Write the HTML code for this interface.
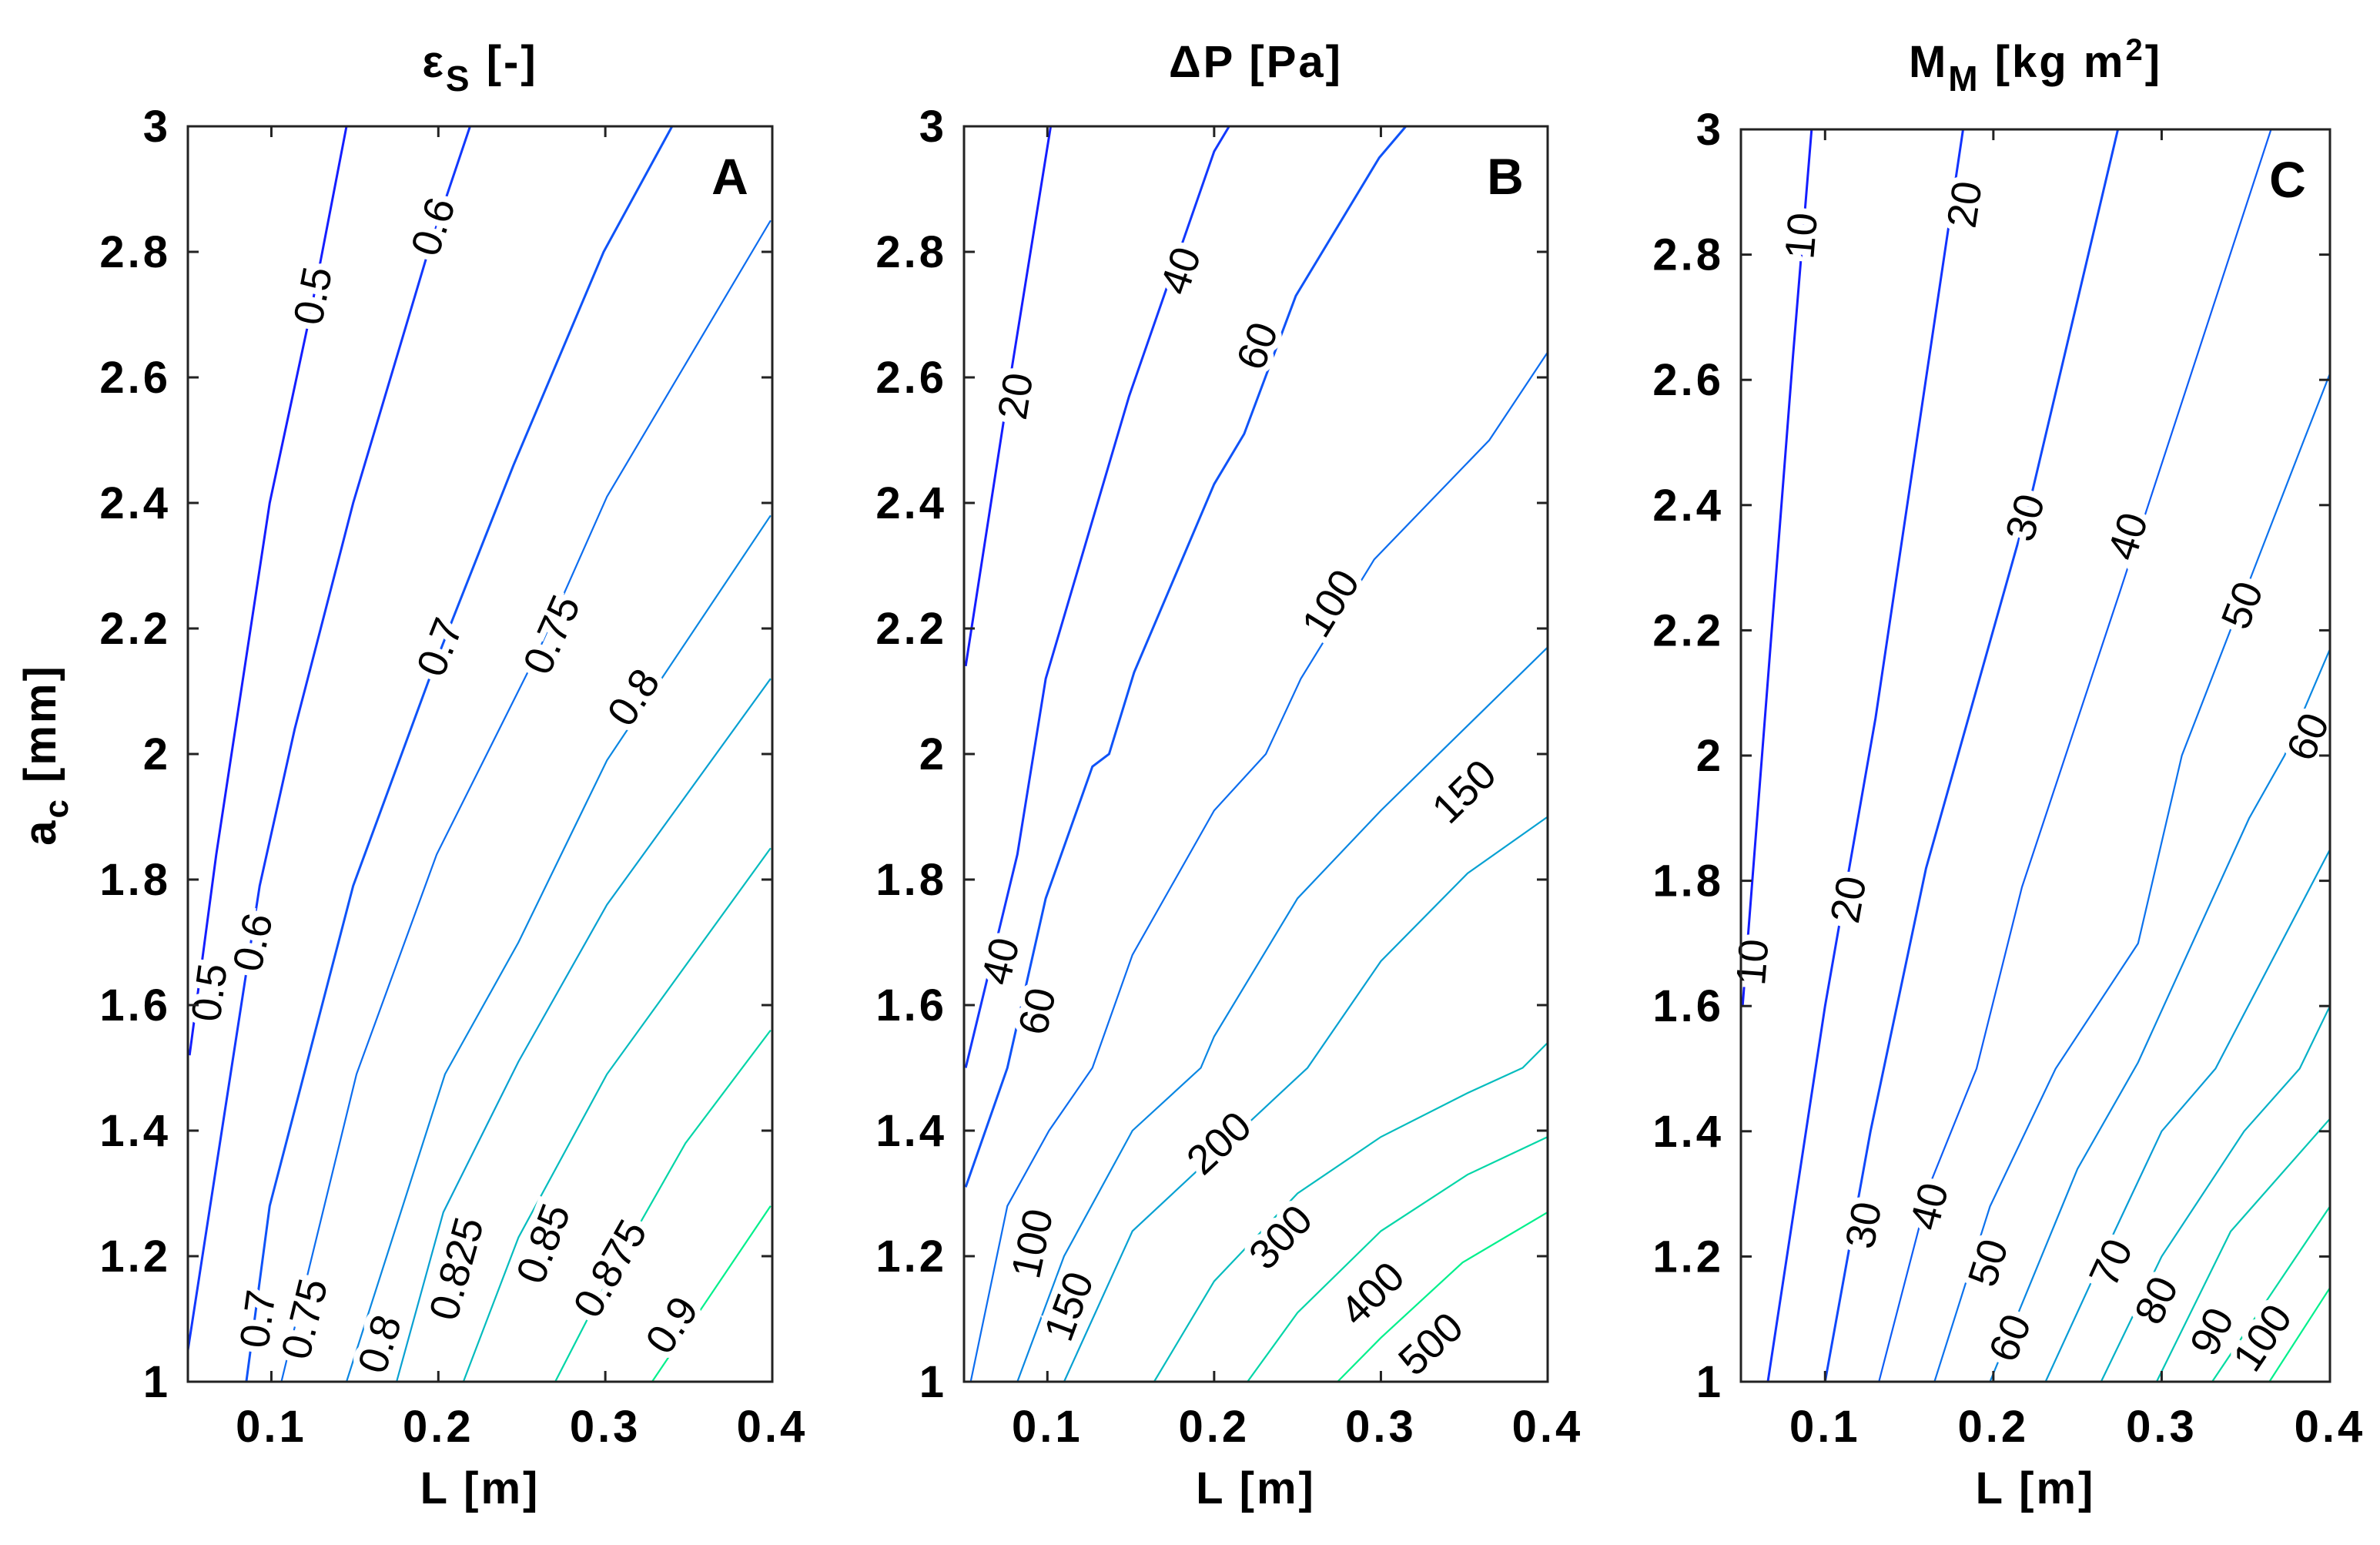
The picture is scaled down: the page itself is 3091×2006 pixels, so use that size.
<!DOCTYPE html>
<html><head><meta charset="utf-8"><style>
body{margin:0;background:#fff}
svg text{font-family:"Liberation Sans",Arial,sans-serif}
</style></head><body>
<svg id="fig" xmlns="http://www.w3.org/2000/svg" width="3091" height="2001" viewBox="0 0 3091 2001"></svg>
<script>
// ---- Panel A data (epsilon_s)
const levelsA = ["0.5","0.6","0.7","0.75","0.8","0.825","0.85","0.875","0.9"];
const linesA = [
 [[0.051,1.52],[0.067,1.84],[0.099,2.40],[0.124,2.71],[0.145,3.0]],
 [[0.05,1.05],[0.093,1.79],[0.114,2.04],[0.149,2.40],[0.195,2.81],[0.219,3.0]],
 [[0.085,1.0],[0.099,1.28],[0.149,1.79],[0.196,2.13],[0.245,2.46],[0.299,2.80],[0.34,3.0]],
 [[0.106,1.0],[0.151,1.49],[0.199,1.84],[0.261,2.17],[0.301,2.41],[0.399,2.85]],
 [[0.145,1.0],[0.204,1.49],[0.248,1.70],[0.301,1.99],[0.399,2.38]],
 [[0.175,1.0],[0.203,1.27],[0.248,1.51],[0.301,1.76],[0.399,2.12]],
 [[0.215,1.0],[0.248,1.23],[0.301,1.49],[0.399,1.85]],
 [[0.27,1.0],[0.301,1.16],[0.348,1.38],[0.399,1.56]],
 [[0.328,1.0],[0.399,1.28]]
];
const labelsA = [[0,0.125,2.73],[0,0.063,1.62],[1,0.197,2.84],[1,0.089,1.70],[2,0.201,2.17],[2,0.092,1.10],
 [3,0.268,2.19],[3,0.12,1.10],[4,0.317,2.09],[4,0.165,1.06],[5,0.211,1.18],[6,0.263,1.22],[7,0.303,1.18],[8,0.34,1.09]];
// ---- Panel B data (delta P)
const levelsB = ["20","40","60","100","150","200","300","400","500"];
const linesB = [
 [[0.051,2.14],[0.079,2.62],[0.102,3.0]],
 [[0.051,1.50],[0.082,1.84],[0.099,2.12],[0.149,2.57],[0.2,2.96],[0.209,3.0]],
 [[0.051,1.31],[0.076,1.50],[0.099,1.77],[0.127,1.98],[0.137,2.0],[0.152,2.13],[0.2,2.43],[0.218,2.51],[0.249,2.73],[0.299,2.95],[0.315,3.0]],
 [[0.054,1.0],[0.076,1.28],[0.101,1.40],[0.127,1.50],[0.151,1.68],[0.2,1.91],[0.231,2.0],[0.252,2.12],[0.296,2.31],[0.365,2.50],[0.4,2.64]],
 [[0.082,1.0],[0.11,1.20],[0.151,1.40],[0.192,1.50],[0.2,1.55],[0.25,1.77],[0.3,1.91],[0.4,2.17]],
 [[0.11,1.0],[0.151,1.24],[0.256,1.50],[0.3,1.67],[0.352,1.81],[0.4,1.90]],
 [[0.164,1.0],[0.2,1.16],[0.25,1.30],[0.3,1.39],[0.352,1.46],[0.385,1.50],[0.4,1.54]],
 [[0.22,1.0],[0.25,1.11],[0.3,1.24],[0.352,1.33],[0.4,1.39]],
 [[0.274,1.0],[0.3,1.07],[0.349,1.19],[0.4,1.27]]
];
const labelsB = [[0,0.081,2.57],[1,0.18,2.77],[1,0.072,1.67],[2,0.226,2.65],[2,0.094,1.59],[3,0.27,2.24],[3,0.091,1.22],
 [4,0.35,1.94],[4,0.113,1.12],[5,0.203,1.38],[6,0.24,1.23],[7,0.295,1.14],[8,0.33,1.06]];
// ---- Panel C data (M_M)
const levelsC = ["10","20","30","40","50","60","70","80","90","100","110"];
const linesC = [
 [[0.051,1.60],[0.081,2.64],[0.092,3.0]],
 [[0.066,1.0],[0.1,1.60],[0.13,2.06],[0.182,3.0]],
 [[0.1,1.0],[0.127,1.40],[0.16,1.82],[0.223,2.42],[0.274,3.0]],
 [[0.132,1.0],[0.163,1.32],[0.19,1.50],[0.217,1.79],[0.275,2.26],[0.365,3.0]],
 [[0.165,1.0],[0.198,1.28],[0.237,1.50],[0.286,1.70],[0.312,2.0],[0.384,2.50],[0.4,2.61]],
 [[0.198,1.0],[0.25,1.34],[0.286,1.51],[0.352,1.90],[0.373,2.0],[0.4,2.17]],
 [[0.231,1.0],[0.272,1.24],[0.3,1.40],[0.332,1.50],[0.4,1.85]],
 [[0.264,1.0],[0.3,1.20],[0.349,1.40],[0.382,1.50],[0.4,1.60]],
 [[0.297,1.0],[0.341,1.24],[0.4,1.42]],
 [[0.33,1.0],[0.4,1.28]],
 [[0.364,1.0],[0.4,1.15]]
];
const labelsC = [[0,0.086,2.83],[0,0.057,1.67],[1,0.183,2.88],[1,0.114,1.77],[2,0.219,2.38],[2,0.123,1.25],
 [3,0.28,2.35],[3,0.162,1.28],[4,0.348,2.24],[4,0.197,1.19],[5,0.387,2.03],[5,0.21,1.07],
 [6,0.27,1.19],[7,0.297,1.13],[8,0.33,1.08],[9,0.36,1.07]];
const xTicks = [0.1,0.2,0.3,0.4];
const yTicks = [1,1.2,1.4,1.6,1.8,2,2.2,2.4,2.6,2.8,3];
const yTickLabels = ["1","1.2","1.4","1.6","1.8","2","2.2","2.4","2.6","2.8","3"];

const NS="http://www.w3.org/2000/svg";
const svg=document.getElementById('fig');
function mk(tag,attrs,parent){const e=document.createElementNS(NS,tag);for(const k in attrs)e.setAttribute(k,attrs[k]);(parent||svg).appendChild(e);return e;}
function color(i,n){const t=n>1?i/(n-1):0;
 const r=Math.round(20*(1-t)+0*t), g=Math.round(30+(240-30)*t), b=Math.round(255-(255-140)*t*t);
 return `rgb(${r},${g},${b})`;}

function panel(cfg){
 const {x0,x1,y0,y1,levels,lines,labels,letter,title,name}=cfg;
 const X=L=>x0+(L-0.05)/(0.4-0.05)*(x1-x0);
 const Y=a=>y1-(a-1)/2*(y1-y0);
 const g=mk('g',{});
 
 
 mk('rect',{x:x0,y:y0,width:x1-x0,height:y1-y0,fill:'#fff'},g);
 lines.forEach((ln,i)=>{
  const p=mk('polyline',{points:ln.map(q=>X(q[0])+','+Y(q[1])).join(' '),fill:'none',stroke:color(i,lines.length),'stroke-width':i<3?3:2.2},g);
  
  
 });
 labels.forEach(lb=>{
  const ln=lines[lb[0]];const px=X(lb[1]),py=Y(lb[2]);
  let best=1e9,ang=0;
  for(let k=0;k<ln.length-1;k++){const ax=X(ln[k][0]),ay=Y(ln[k][1]),bx=X(ln[k+1][0]),by=Y(ln[k+1][1]);
   const mx=(ax+bx)/2,my=(ay+by)/2;const d=Math.hypot(mx-px,my-py);if(d<best){best=d;ang=Math.atan2(by-ay,bx-ax)*180/Math.PI;}}
  if(ang>90)ang-=180;if(ang<-90)ang+=180;
  const t=mk('text',{x:px,y:py,'font-size':54,'text-anchor':'middle','dominant-baseline':'central',fill:'#000',stroke:'#fff','stroke-width':16,'paint-order':'stroke',transform:`rotate(${ang} ${px} ${py})`},g);
  t.textContent=levels[lb[0]];
  
  
 });
 mk('rect',{x:x0,y:y0,width:x1-x0,height:y1-y0,fill:'none',stroke:'#222','stroke-width':3},g);
 xTicks.forEach(v=>{const x=X(v);
  mk('line',{x1:x,y1:y1,x2:x,y2:y1-14,stroke:'#222','stroke-width':3},g);
  mk('line',{x1:x,y1:y0,x2:x,y2:y0+14,stroke:'#222','stroke-width':3},g);
  const t=mk('text',{x:x,y:y1+78,'font-size':58,'font-weight':'bold','letter-spacing':4,'text-anchor':'middle'},g);t.textContent=String(v);
  
  
 });
 yTicks.forEach((v,i)=>{const y=Y(v);
  mk('line',{x1:x0,y1:y,x2:x0+14,y2:y,stroke:'#222','stroke-width':3},g);
  mk('line',{x1:x1,y1:y,x2:x1-14,y2:y,stroke:'#222','stroke-width':3},g);
  const t=mk('text',{x:x0-22,y:y+20,'font-size':58,'font-weight':'bold','letter-spacing':4,'text-anchor':'end'},g);t.textContent=yTickLabels[i];
  
  
 });
 const lt=mk('text',{x:x1-55,y:y0+88,'font-size':66,'font-weight':'bold','text-anchor':'middle'},g);lt.textContent=letter;
 
 
 const xl=mk('text',{x:(x0+x1)/2,y:y1+158,'font-size':58,'font-weight':'bold','letter-spacing':3,'text-anchor':'middle'},g);xl.textContent='L [m]';
 
 
 const tt=mk('text',{x:(x0+x1)/2,y:100,'font-size':58,'font-weight':'bold','letter-spacing':3,'text-anchor':'middle'},g);tt.innerHTML=title;
 
 
}
panel({x0:244,x1:1003,y0:164,y1:1794,levels:levelsA,lines:linesA,labels:labelsA,letter:'A',name:'panel-a',
 title:'ε<tspan dy="18" font-size="46">S</tspan><tspan dy="-18"> [-]</tspan>'});
panel({x0:1252,x1:2010,y0:164,y1:1794,levels:levelsB,lines:linesB,labels:labelsB,letter:'B',name:'panel-b',
 title:'ΔP [Pa]'});
panel({x0:2261,x1:3026,y0:168,y1:1794,levels:levelsC,lines:linesC,labels:labelsC,letter:'C',name:'panel-c',
 title:'M<tspan dy="18" font-size="46">M</tspan><tspan dy="-18"> [kg m</tspan><tspan dy="-22" font-size="40">2</tspan><tspan dy="22">]</tspan>'});
const yl=mk('text',{x:0,y:0,'font-size':58,'font-weight':'bold','letter-spacing':3,'text-anchor':'middle',transform:'translate(72 980) rotate(-90)'});
yl.innerHTML='a<tspan dy="16" font-size="44">c</tspan><tspan dy="-16"> [mm]</tspan>';


</script>
</body></html>
